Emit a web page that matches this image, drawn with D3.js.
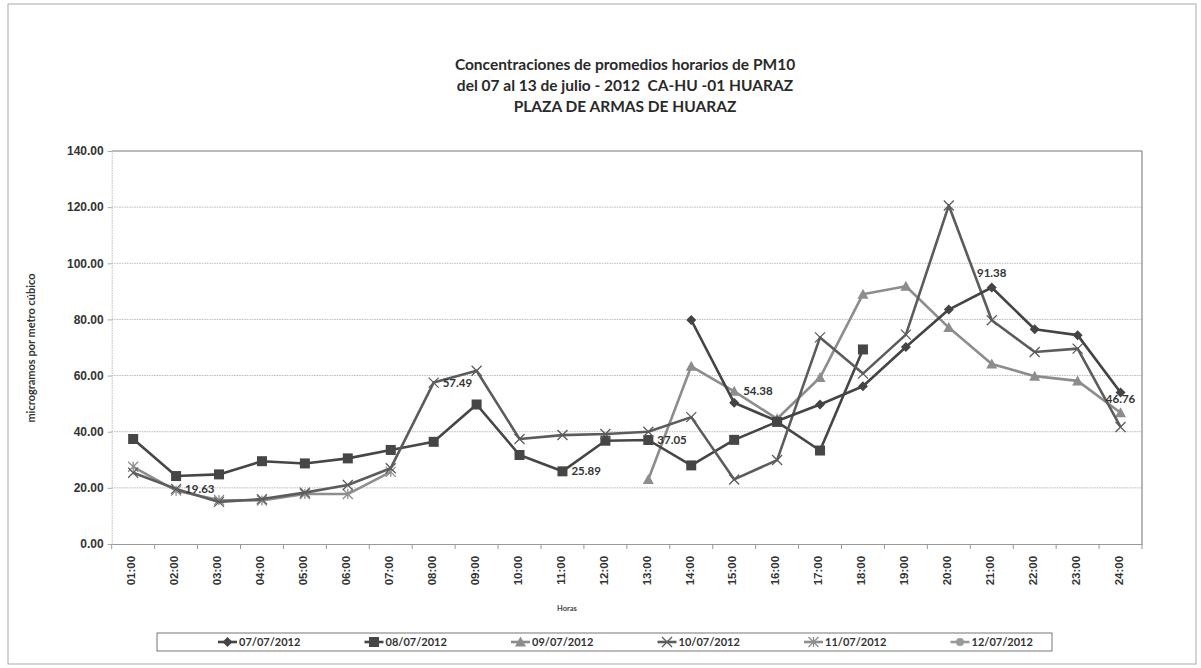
<!DOCTYPE html>
<html>
<head>
<meta charset="utf-8">
<script src="https://cdn.jsdelivr.net/npm/d3@7"></script>
<style>
  html, body { margin: 0; padding: 0; background: #fff; }
  svg { display: block; font-family: Lato, "Open Sans", "Noto Sans", sans-serif; }
</style>
</head>
<body>
<div id="chart"></div>
<script>
const hours = ["01:00","02:00","03:00","04:00","05:00","06:00","07:00","08:00","09:00","10:00","11:00","12:00",
               "13:00","14:00","15:00","16:00","17:00","18:00","19:00","20:00","21:00","22:00","23:00","24:00"];
const seriesNames = ["07/07/2012","08/07/2012","09/07/2012","10/07/2012","11/07/2012","12/07/2012"];

const s0707 = [null,null,null,null,null,null,null,null,null,null,null,null,
               null,79.8,50.3,43.8,49.7,56.2,70.2,83.5,91.38,76.5,74.4,54.0];
const s0807 = [37.4,24.2,24.8,29.5,28.7,30.5,33.5,36.4,49.7,31.7,25.89,36.8,
               37.05,28.0,37.1,43.5,33.3,69.3,null,null,null,null,null,null];
const s0907 = [null,null,null,null,null,null,null,null,null,null,null,null,
               23.0,63.3,54.38,44.6,59.3,89.0,91.8,77.1,64.1,59.8,58.1,46.76];
const s1007 = [25.4,19.63,15.0,16.0,18.3,21.0,27.0,57.49,61.7,37.4,38.8,39.2,
               40.0,45.2,23.0,29.9,73.6,60.7,74.6,120.6,79.7,68.4,69.6,41.7];
const s1107 = [27.5,19.0,15.7,15.5,17.8,17.8,25.7,null,null,null,null,null,
               null,null,null,null,null,null,null,null,null,null,null,null];
const s1207 = [null,null,null,null,null,null,null,null,null,null,null,null,
               null,null,null,null,null,null,null,null,null,null,null,null];
const seriesValues = [s0707, s0807, s0907, s1007, s1107, s1207];

const yTicks = [0,20,40,60,80,100,120,140];

// data labels: [series index, hour, text]
const dataLabels = [
  [3, "02:00", "19.63"],
  [3, "08:00", "57.49"],
  [1, "11:00", "25.89"],
  [1, "13:00", "37.05"],
  [2, "15:00", "54.38"],
  [0, "21:00", "91.38"],
  [2, "24:00", "46.76"]
];
const labelAbove = {"91.38": true, "46.76": true};

const styles = [
  {color: "#444", marker: "diamond"},
  {color: "#464646", marker: "square"},
  {color: "#8d8d8d", marker: "triangle"},
  {color: "#5c5c5c", marker: "x"},
  {color: "#8e8e8e", marker: "star"},
  {color: "#9a9a9a", marker: "circle"}
];

const W = 1201, H = 668;
const plot = {left: 111.7, right: 1142, top: 151, bottom: 544};

const svg = d3.select("#chart").append("svg").attr("width", W).attr("height", H);

// outer frame
svg.append("rect").attr("x", 8).attr("y", 4).attr("width", 1188).attr("height", 660)
   .attr("fill", "#fff").attr("stroke", "#aaa").attr("stroke-width", 1);

const x = d3.scaleBand().domain(hours).range([plot.left, plot.right]).padding(0);
const cx = h => x(h) + x.bandwidth() / 2;
const y = d3.scaleLinear().domain([0, 140]).range([plot.bottom, plot.top]);

// gridlines
svg.append("g").selectAll("line").data(yTicks.filter(t => t > 0 && t < 140)).join("line")
  .attr("x1", plot.left).attr("x2", plot.right)
  .attr("y1", d => y(d)).attr("y2", d => y(d))
  .attr("stroke", "#b8b8b8").attr("stroke-width", 1).attr("stroke-dasharray", "1.5,1");

// plot frame: top and right
svg.append("line").attr("x1", plot.left).attr("x2", plot.right).attr("y1", plot.top).attr("y2", plot.top)
  .attr("stroke", "#777").attr("stroke-width", 1.2);
svg.append("line").attr("x1", plot.right).attr("x2", plot.right).attr("y1", plot.top).attr("y2", plot.bottom)
  .attr("stroke", "#888").attr("stroke-width", 1.2);

// y axis
const yAxis = svg.append("g").attr("transform", `translate(${plot.left},0)`)
  .call(d3.axisLeft(y).tickValues(yTicks).tickFormat(d3.format(".2f")).tickSize(4).tickPadding(4));
yAxis.select(".domain").attr("stroke", "#bbb").attr("stroke-dasharray", "1.5,1");
yAxis.selectAll(".tick line").attr("stroke", "#aaa");
yAxis.selectAll("text").attr("font-size", 12).attr("font-weight", "bold").attr("fill", "#333");

// x axis
const xAxis = svg.append("g").attr("transform", `translate(0,${plot.bottom})`)
  .call(d3.axisBottom(x).tickSize(0).tickPadding(10));
xAxis.select(".domain").attr("stroke", "#999");
xAxis.selectAll("text")
  .attr("font-size", 11.5).attr("font-weight", "bold").attr("fill", "#333")
  .attr("transform", "rotate(-90)")
  .attr("text-anchor", "end")
  .attr("dx", "-0.6em").attr("dy", "-0.15em")
  .attr("x", -5).attr("y", 4);
// boundary tick marks
const bounds = hours.map(h => x(h)).concat([plot.right]);
svg.append("g").selectAll("line").data(bounds).join("line")
  .attr("x1", d => d).attr("x2", d => d)
  .attr("y1", plot.bottom).attr("y2", plot.bottom + 5)
  .attr("stroke", "#999");

// axis titles
svg.append("text").attr("x", 567).attr("y", 611).attr("text-anchor", "middle")
  .attr("font-size", 7.5).attr("font-weight", "bold").attr("fill", "#444").text("Horas");
svg.append("text").attr("transform", "translate(35,348) rotate(-90)").attr("text-anchor", "middle")
  .attr("font-size", 11).attr("font-weight", "bold").attr("fill", "#333").text("microgramos por metro cúbico");

// title
const titleLines = ["Concentraciones de promedios horarios de PM10",
                    "del 07 al 13 de julio - 2012  CA-HU -01 HUARAZ",
                    "PLAZA DE ARMAS DE HUARAZ"];
svg.append("g").selectAll("text").data(titleLines).join("text")
  .attr("x", 625).attr("y", (d, i) => 70 + i * 21)
  .attr("text-anchor", "middle").attr("font-size", 15.5).attr("font-weight", "bold")
  .attr("fill", "#2a2a2a").attr("xml:space", "preserve").text(d => d);

// markers
function drawMarker(g, type, color, px, py) {
  if (type === "square") {
    g.append("rect").attr("x", px - 5).attr("y", py - 5).attr("width", 10).attr("height", 10).attr("fill", color);
  } else if (type === "diamond") {
    g.append("path").attr("d", `M${px},${py-5}L${px+5},${py}L${px},${py+5}L${px-5},${py}Z`).attr("fill", color);
  } else if (type === "triangle") {
    g.append("path").attr("d", `M${px},${py-5.5}L${px+5.5},${py+4.5}L${px-5.5},${py+4.5}Z`).attr("fill", color);
  } else if (type === "x") {
    g.append("path").attr("d", `M${px-5},${py-5}L${px+5},${py+5}M${px-5},${py+5}L${px+5},${py-5}`)
      .attr("stroke", color).attr("stroke-width", 1.3).attr("fill", "none");
  } else if (type === "star") {
    g.append("path").attr("d", `M${px-5},${py-5}L${px+5},${py+5}M${px-5},${py+5}L${px+5},${py-5}M${px},${py-5}L${px},${py+5}`)
      .attr("stroke", color).attr("stroke-width", 1.3).attr("fill", "none");
  } else {
    g.append("circle").attr("cx", px).attr("cy", py).attr("r", 4).attr("fill", color);
  }
}

const line = d3.line().defined(d => d.v !== null).x(d => cx(d.h)).y(d => y(d.v));

const order = [4, 2, 1, 3, 0, 5];
order.forEach(si => {
  const vals = seriesValues[si];
  const pts = hours.map((h, i) => ({h, v: vals[i]}));
  const g = svg.append("g");
  g.append("path").datum(pts).attr("d", line).attr("fill", "none")
    .attr("stroke", styles[si].color).attr("stroke-width", 2.6).attr("stroke-linejoin", "round");
  pts.filter(p => p.v !== null).forEach(p => drawMarker(g, styles[si].marker, styles[si].color, cx(p.h), y(p.v)));
});

// data labels
svg.append("g").selectAll("text").data(dataLabels).join("text")
  .attr("x", d => labelAbove[d[2]] ? cx(d[1]) : cx(d[1]) + 9)
  .attr("y", d => labelAbove[d[2]] ? y(seriesValues[d[0]][hours.indexOf(d[1])]) - 10 : y(seriesValues[d[0]][hours.indexOf(d[1])]) + 4)
  .attr("text-anchor", d => labelAbove[d[2]] ? "middle" : "start")
  .attr("font-size", 11.5).attr("font-weight", "bold").attr("fill", "#333")
  .text(d => d[2]);

// legend
const lg = svg.append("g");
lg.append("rect").attr("x", 157).attr("y", 633).attr("width", 895).attr("height", 18)
  .attr("fill", "#fff").attr("stroke", "#777").attr("stroke-width", 1);
seriesNames.forEach((name, i) => {
  const lx = 218 + i * 146.5, ly = 642;
  const g = lg.append("g");
  g.append("line").attr("x1", lx).attr("x2", lx + 19).attr("y1", ly).attr("y2", ly)
    .attr("stroke", styles[i].color).attr("stroke-width", 2.6);
  drawMarker(g, styles[i].marker, styles[i].color, lx + 9.5, ly);
  g.append("text").attr("x", lx + 21).attr("y", ly + 4).attr("font-size", 11).attr("font-weight", "bold")
    .attr("fill", "#333").text(name);
});
</script>
</body>
</html>
